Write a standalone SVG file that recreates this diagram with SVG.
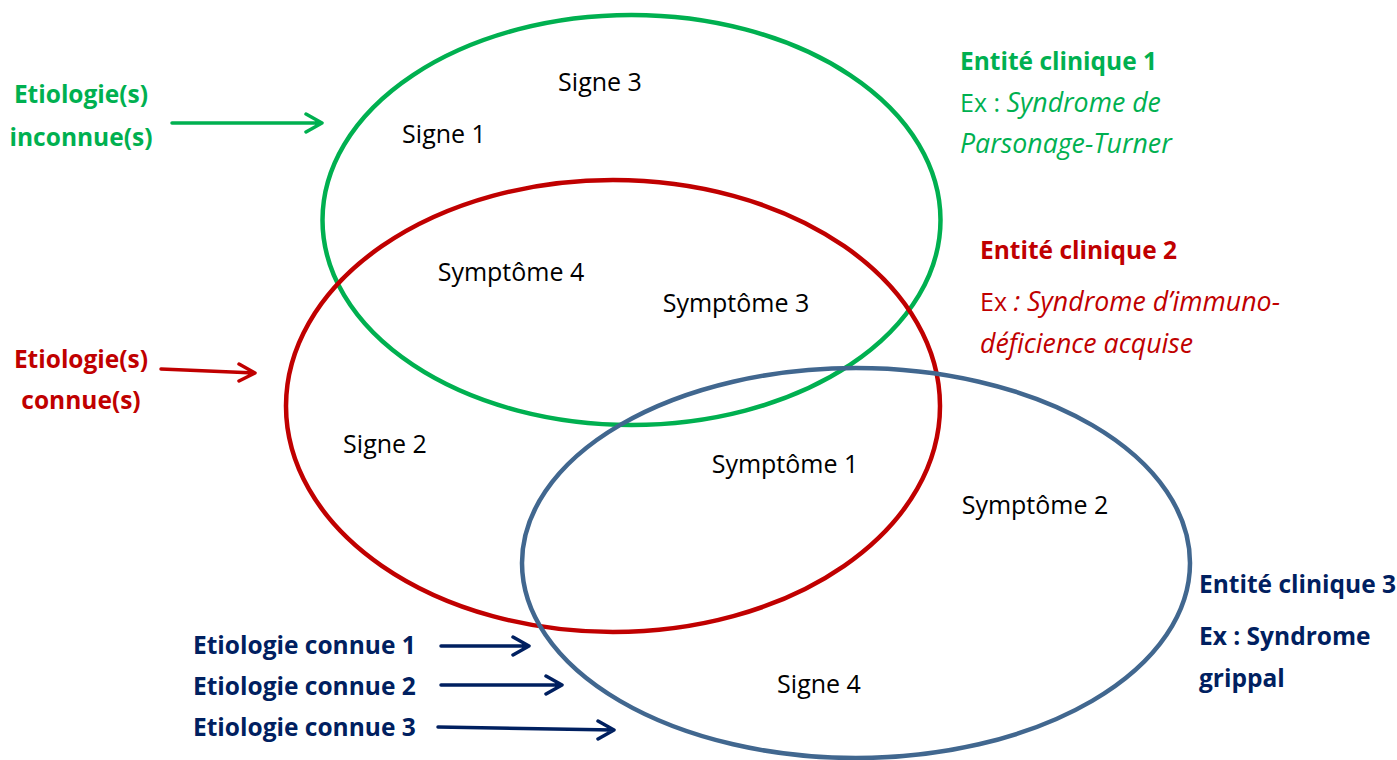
<svg xmlns="http://www.w3.org/2000/svg" width="1397" height="760" viewBox="0 0 1397 760">
<defs>
<style>
text{font-family:"Open Sans","Noto Sans","Liberation Sans",sans-serif;font-size:25px}
.b{font-weight:bold;font-size:24.5px}
.i{font-style:italic;font-size:26.7px}
.g{fill:#00B050}.r{fill:#C00000}.n{fill:#002060}.k{fill:#000}
.ell{fill:none;stroke-width:4.5}
.ar{fill:none;stroke-width:3.5}
.lbl{text-anchor:middle}
</style>
</defs>
<rect width="1397" height="760" fill="#fff"/>
<g id="entity1"><ellipse class="ell" cx="631.5" cy="220" rx="309" ry="205" stroke="#00B050"/></g>
<g id="entity2"><ellipse class="ell" cx="613" cy="406" rx="327" ry="226" stroke="#C00000"/></g>
<g id="entity3"><ellipse class="ell" cx="856" cy="563" rx="334" ry="195" stroke="#41678F"/></g>
<g id="labels">
<text class="k lbl" x="600" y="91">Signe 3</text>
<text class="k lbl" x="444" y="143">Signe 1</text>
<text class="k lbl" x="511" y="281">Symptôme 4</text>
<text class="k lbl" x="736" y="312">Symptôme 3</text>
<text class="k lbl" x="385" y="453">Signe 2</text>
<text class="k lbl" x="785" y="473">Symptôme 1</text>
<text class="k lbl" x="1035" y="514">Symptôme 2</text>
<text class="k lbl" x="819" y="693">Signe 4</text>
</g>
<g id="etio-inconnue"><text class="g b lbl" x="81" y="103">Etiologie(s)</text><text class="g b lbl" x="81" y="146">inconnue(s)</text></g>
<g id="etio-connue"><text class="r b lbl" x="81" y="368">Etiologie(s)</text><text class="r b lbl" x="81" y="409">connue(s)</text></g>
<g id="etio-1"><text class="n b" x="193" y="654">Etiologie connue 1</text></g>
<g id="etio-2"><text class="n b" x="193" y="695">Etiologie connue 2</text></g>
<g id="etio-3"><text class="n b" x="193" y="736">Etiologie connue 3</text></g>
<g id="legend1"><text class="g b" x="960" y="70">Entité clinique 1</text><text class="g" x="960" y="112">Ex : <tspan class="i">Syndrome de</tspan></text><text class="g i" x="960" y="153">Parsonage-Turner</text></g>
<g id="legend2"><text class="r b" x="980" y="259">Entité clinique 2</text><text class="r" x="980" y="311">Ex <tspan class="i">: Syndrome d’immuno-</tspan></text><text class="r i" x="980" y="353">déficience acquise</text></g>
<g id="legend3"><text class="n b" x="1199" y="593">Entité clinique 3</text><text class="n b" x="1199" y="645">Ex : Syndrome</text><text class="n b" x="1199" y="687">grippal</text></g>
<g id="connectors" class="ar" stroke-linecap="round" stroke-linejoin="round">
<path d="M172,123 L322,123 M306,114 L322,123 L306,132" stroke="#00B050"/>
<path d="M161,369 L255,373 M239,364 L255,373 L239,381" stroke="#C00000"/>
<path d="M441,646 L529,646 M513,637 L529,646 L513,655" stroke="#002060"/>
<path d="M441,685 L562,685 M546,676 L562,685 L546,694" stroke="#002060"/>
<path d="M438,727 L614,730 M598,721 L614,730 L598,739" stroke="#002060"/>
</g>
</svg>
